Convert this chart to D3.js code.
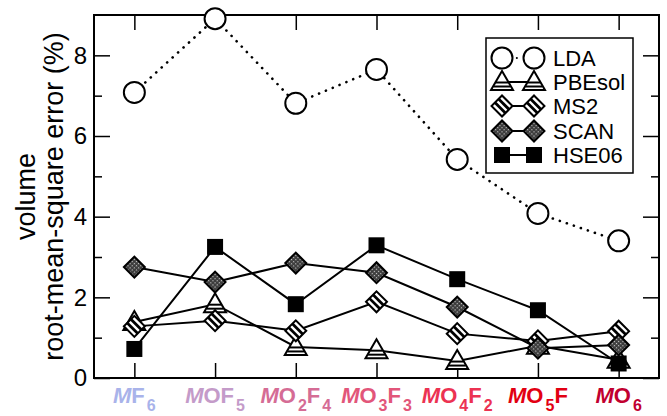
<!DOCTYPE html>
<html>
<head>
<meta charset="utf-8">
<script src="https://cdn.jsdelivr.net/npm/d3@7"></script>
<style>
  body { margin: 0; background: #fff; }
  svg { display: block; font-family: "Liberation Sans", Arial, Helvetica, sans-serif; }
</style>
</head>
<body>
<svg id="chart" width="667" height="416"></svg>
<script>
// ---- data ----
const catLabels = [
  [["F", "6"]],
  [["OF", "5"]],
  [["O", "2"], ["F", "4"]],
  [["O", "3"], ["F", "3"]],
  [["O", "4"], ["F", "2"]],
  [["O", "5"], ["F", ""]],
  [["O", "6"]]
];
const catColors = ["#a9b3ea", "#c49bc9", "#d56c95", "#e2567a", "#ec3252", "#e20012", "#c10030"];
const seriesNames = ["LDA", "PBEsol", "MS2", "SCAN", "HSE06"];
const LDA    = [7.08, 8.91, 6.81, 7.65, 5.42, 4.08, 3.40];
const PBEsol = [1.39, 1.83, 0.77, 0.69, 0.42, 0.80, 0.45];
const MS2    = [1.28, 1.42, 1.17, 1.89, 1.10, 0.92, 1.16];
const SCAN   = [2.75, 2.38, 2.85, 2.61, 1.76, 0.74, 0.82];
const HSE06  = [0.72, 3.25, 1.83, 3.29, 2.45, 1.68, 0.36];
const yMajorTicks = [0, 2, 4, 6, 8];
const yMinorTicks = [1, 3, 5, 7];
const yTitle = ["volume", "root-mean-square error (%)"];

// ---- layout ----
const L = 94, T = 15, R = 659, B = 378;
const svg = d3.select("#chart");
const x = d3.scaleLinear().domain([0.5, 7.5]).range([L, R]);
const y = d3.scaleLinear().domain([0, 9]).range([B, T]);
const idx = d3.range(1, 8);

// patterns
const defs = svg.append("defs");
const pat = defs.append("pattern").attr("id", "dots").attr("patternUnits", "userSpaceOnUse")
  .attr("width", 3).attr("height", 3);
pat.append("rect").attr("width", 3).attr("height", 3).attr("fill", "#3a3a3a");
pat.append("rect").attr("width", 1.2).attr("height", 1.2).attr("fill", "#c8c8c8");

// axes (inward ticks)
function styleAxis(g) {
  g.select(".domain").remove();
  g.selectAll(".tick line").attr("stroke", "#000").attr("stroke-width", 1.5);
  g.selectAll("text").attr("font-size", 24).attr("fill", "#000").attr("font-family", "Liberation Sans, Arial, sans-serif");
}
svg.append("g").attr("transform", `translate(0,${B})`)
  .call(d3.axisBottom(x).tickValues(idx).tickSize(-15).tickFormat("")).call(styleAxis);
svg.append("g").attr("transform", `translate(0,${T})`)
  .call(d3.axisTop(x).tickValues(idx).tickSize(-15).tickFormat("")).call(styleAxis);
svg.append("g").attr("transform", `translate(${L},0)`)
  .call(d3.axisLeft(y).tickValues(yMajorTicks).tickSize(-16).tickPadding(7).tickFormat(d3.format("d"))).call(styleAxis);
svg.append("g").attr("transform", `translate(${L},0)`)
  .call(d3.axisLeft(y).tickValues(yMinorTicks).tickSize(-8).tickFormat("")).call(styleAxis);
svg.append("g").attr("transform", `translate(${R},0)`)
  .call(d3.axisRight(y).tickValues(yMajorTicks).tickSize(-16).tickFormat("")).call(styleAxis);
svg.append("g").attr("transform", `translate(${R},0)`)
  .call(d3.axisRight(y).tickValues(yMinorTicks).tickSize(-8).tickFormat("")).call(styleAxis);

svg.append("rect").attr("x", L).attr("y", T).attr("width", R - L).attr("height", B - T)
  .attr("fill", "none").attr("stroke", "#000").attr("stroke-width", 2);

// y title
const yt = svg.append("text").attr("transform", `translate(0,${(T + B) / 2}) rotate(-90)`)
  .attr("text-anchor", "middle").attr("font-size", 27).attr("fill", "#000");
yt.append("tspan").attr("x", 0).attr("y", 35).text(yTitle[0]);
yt.append("tspan").attr("x", 0).attr("y", 63).text(yTitle[1]);

// x category labels
catLabels.forEach((parts, i) => {
  const t = svg.append("text").attr("x", x(i + 1)).attr("y", 403)
    .attr("text-anchor", "middle").attr("font-size", 22).attr("font-weight", "bold")
    .attr("fill", catColors[i]);
  t.append("tspan").attr("font-style", "italic").text("M");
  let pendingDy = 0;
  parts.forEach(([a, s]) => {
    t.append("tspan").attr("dy", pendingDy).text(a);
    pendingDy = 0;
    if (s) {
      t.append("tspan").attr("font-size", 16).attr("dx", 2).attr("dy", 8).text(s);
      pendingDy = -8;
    }
  });
});

// markers
function marker(g, type) {
  if (type === "LDA") {
    g.append("circle").attr("r", 10.5).attr("fill", "#fff").attr("stroke", "#000").attr("stroke-width", 2);
  } else if (type === "PBEsol") {
    g.append("path").attr("d", "M0,-11L11,8L-11,8Z").attr("fill", "#fff").attr("stroke", "#000").attr("stroke-width", 2);
    g.append("line").attr("x1", -6.2).attr("x2", 6.2).attr("y1", 0.5).attr("y2", 0.5).attr("stroke", "#000").attr("stroke-width", 2);
    g.append("line").attr("x1", -8.4).attr("x2", 8.4).attr("y1", 4.5).attr("y2", 4.5).attr("stroke", "#000").attr("stroke-width", 2);
  } else if (type === "MS2") {
    const r = g.append("g").attr("transform", "rotate(45)");
    r.append("rect").attr("x", -7.4).attr("y", -7.4).attr("width", 14.8).attr("height", 14.8)
      .attr("fill", "#fff").attr("stroke", "#000").attr("stroke-width", 2);
    r.append("rect").attr("x", -7.4).attr("y", -4).attr("width", 14.8).attr("height", 2.8).attr("fill", "#000");
    r.append("rect").attr("x", -7.4).attr("y", 1.2).attr("width", 14.8).attr("height", 2.8).attr("fill", "#000");
  } else if (type === "SCAN") {
    g.append("rect").attr("transform", "rotate(45)").attr("x", -7.4).attr("y", -7.4).attr("width", 14.8).attr("height", 14.8)
      .attr("fill", "url(#dots)").attr("stroke", "#000").attr("stroke-width", 2);
  } else if (type === "HSE06") {
    g.append("rect").attr("x", -8).attr("y", -8).attr("width", 16).attr("height", 16).attr("fill", "#000");
  }
}

const seriesData = [LDA, PBEsol, MS2, SCAN, HSE06];
const line = d3.line().x((d, i) => x(i + 1)).y(d => y(d));
seriesData.forEach((vals, si) => {
  const name = seriesNames[si];
  const g = svg.append("g");
  g.append("path").attr("d", line(vals)).attr("fill", "none").attr("stroke", "#000")
    .attr("stroke-width", name === "LDA" ? 2.6 : 2)
    .attr("stroke-linecap", name === "LDA" ? "round" : "butt")
    .attr("stroke-dasharray", name === "LDA" ? "0.1 7.3" : null);
  vals.forEach((v, i) => marker(g.append("g").attr("transform", `translate(${x(i + 1)},${y(v)})`), name));
});

// legend
const lg = svg.append("g");
lg.append("rect").attr("x", 486).attr("y", 38).attr("width", 147).attr("height", 135)
  .attr("fill", "#fff").attr("stroke", "#000").attr("stroke-width", 1.5);
const legY = [58, 82, 106, 131, 155];
seriesNames.forEach((name, i) => {
  const yy = legY[i];
  lg.append("line").attr("x1", 502).attr("x2", 534).attr("y1", yy).attr("y2", yy)
    .attr("stroke", "#000").attr("stroke-width", 2)
    .attr("stroke-linecap", name === "LDA" ? "round" : "butt")
    .attr("stroke-dasharray", name === "LDA" ? "0.1 7.3" : null);
  marker(lg.append("g").attr("transform", `translate(502,${yy})`), name);
  marker(lg.append("g").attr("transform", `translate(534,${yy})`), name);
  lg.append("text").attr("x", 553).attr("y", yy).attr("dy", "0.36em")
    .attr("font-size", 22).attr("fill", "#000").text(name);
});
</script>
</body>
</html>
